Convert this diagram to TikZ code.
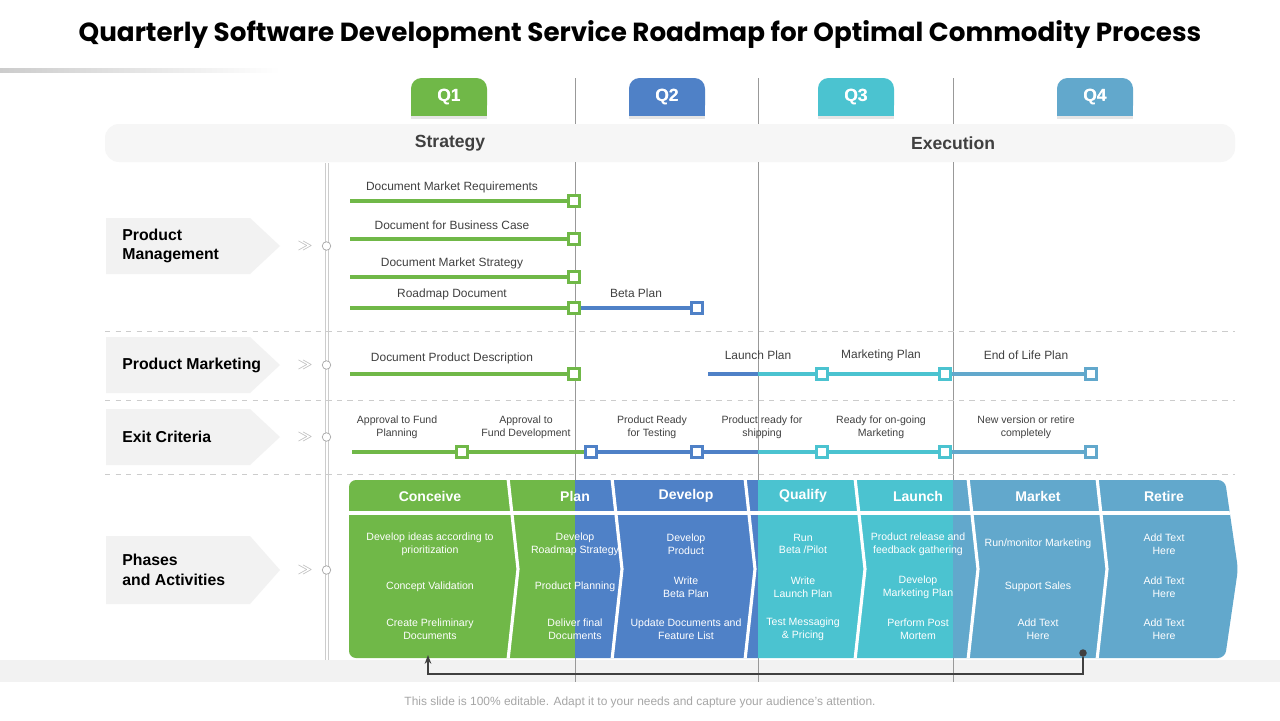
\documentclass[tikz,border=0pt]{standalone}
\usepackage{fontspec}
\setmainfont{Liberation Sans}
\newfontfamily\titlefont{Poppins}
\usetikzlibrary{positioning, calc, arrows.meta}
\definecolor{qgreen}{RGB}{112,184,72}
\definecolor{qblue}{RGB}{79,129,199}
\definecolor{qcyan}{RGB}{75,195,208}
\definecolor{qsteel}{RGB}{98,168,204}
\definecolor{rowgray}{RGB}{242,242,242}
\definecolor{textgray}{RGB}{64,64,64}
\tikzset{
  qtab/.style={rounded corners=6pt, minimum width=1.52cm, minimum height=0.76cm, text=white, font=\bfseries\fontsize{10}{12}\selectfont},
  rowlabel/.style={font=\bfseries\fontsize{9}{11}\selectfont, text=black, align=left, anchor=west, inner sep=0pt},
  barlabel/.style={font=\fontsize{6.4}{7.6}\selectfont, text=textgray, align=center},
  phasehead/.style={font=\bfseries\fontsize{8}{10}\selectfont, text=white},
  phasetext/.style={font=\fontsize{6}{7.2}\selectfont, text=white, align=center},
  mile/.style={draw=#1, line width=1.6pt, fill=white, minimum size=0.22cm, inner sep=0pt},
  bar/.style={line width=2.6pt, draw=#1},
  chev/.style={font=\fontsize{8}{8}\selectfont, text=gray!60},
  dot/.style={circle, draw=gray!70, fill=white, minimum size=0.17cm, inner sep=0pt},
  sep/.style={white, line width=1.8pt}
}
\begin{document}
\begin{tikzpicture}[x=0.02cm, y=-0.02cm]
\useasboundingbox (0,0) rectangle (1280,720);
\fill[white] (0,0) rectangle (1280,720);

% Title
\node[font=\titlefont\bfseries\fontsize{14.9}{18}\selectfont] (title) at (640,34) {Quarterly Software Development Service Roadmap for Optimal Commodity Process};
\shade[left color=gray!40, right color=white] (0,68) rectangle (280,72);

% Bottom band
\fill[rowgray] (0,660) rectangle (1280,682);

% Quarter tabs
\foreach \x/\c/\q in {449/qgreen/Q1, 667/qblue/Q2, 856/qcyan/Q3, 1095/qsteel/Q4} {
  \fill[gray!20] (\x-38,100) rectangle (\x+38,119);
  \node[qtab, fill=\c] (tab\q) at (\x,97) {\q};
  \fill[\c] (\x-38,100) rectangle (\x+38,116);
  \node[qtab] at (\x,97) {\q};
}

% Strategy / Execution band
\fill[rowgray!70, rounded corners=8pt] (105,124) rectangle (1235,162);
\node[font=\bfseries\fontsize{10}{12}\selectfont, text=textgray] (strategy) at (450,143) {Strategy};
\node[font=\bfseries\fontsize{10}{12}\selectfont, text=textgray] (execution) at (953,143) {Execution};

% Quarter dividers
\foreach \x in {575,758,953} {
  \draw[gray!80, thin] (\x,78) -- (\x,124);
  \draw[gray!80, thin] (\x,162) -- (\x,682);
}
\draw[gray!40] (325,163) -- (325,660);
\draw[gray!40] (328,163) -- (328,660);

% Row separators
\foreach \y in {331,400,474} {
  \draw[gray!40, dashed] (105,\y) -- (1235,\y);
}

% Row labels
\foreach \y/\h/\t [count=\i] in {246/28/{Product\\Management}, 365/28/{Product Marketing}, 437/28/{Exit Criteria}, 570/34/{Phases\\and Activities}} {
  \fill[rowgray] (106,\y-\h) -- (250,\y-\h) -- (280,\y) -- (250,\y+\h) -- (106,\y+\h) -- cycle;
  \node[rowlabel] (row\i) at (122,\y) {\t};
  \node[chev] (chev\i) at (305,\y) {$\gg$};
  \node[dot] (dot\i) at (326.5,\y) {};
}

% Product management
\foreach \y/\t [count=\i] in {201/Document Market Requirements, 239/Document for Business Case, 277/Document Market Strategy, 308/Roadmap Document} {
  \coordinate (pmS\i) at (350,\y);
  \node[mile=qgreen] (pmM\i) at (574,\y) {};
  \draw[bar=qgreen] (pmS\i) -- (pmM\i);
  \node[barlabel, font=\fontsize{6.8}{8}\selectfont] at (452,\y-14) {\t};
}
\node[mile=qblue] (pmB) at (697,308) {};
\draw[bar=qblue] (pmM4) -- (pmB);
\node[mile=qgreen] at (574,308) {};
\node[barlabel, font=\fontsize{6.8}{8}\selectfont] at (636,293) {Beta Plan};

% Product marketing
\coordinate (mkS) at (350,374);
\node[mile=qgreen] (mk1) at (574,374) {};
\draw[bar=qgreen] (mkS) -- (mk1);
\node[barlabel, font=\fontsize{6.8}{8}\selectfont] at (452,358) {Document Product Description};
\coordinate (mkL) at (708,374);
\coordinate (mkQ) at (758,374);
\node[mile=qcyan] (mk2) at (822,374) {};
\node[mile=qcyan] (mk3) at (945,374) {};
\node[mile=qsteel] (mk4) at (1091,374) {};
\draw[bar=qblue] (mkL) -- (mkQ);
\draw[bar=qcyan] (mkQ) -- (mk2);
\draw[bar=qcyan] (mk2) -- (mk3);
\draw[bar=qsteel] (mk3) -- (mk4);
\node[mile=qcyan] at (945,374) {};
\node[barlabel, font=\fontsize{6.8}{8}\selectfont] at (758,355) {Launch Plan};
\node[barlabel, font=\fontsize{6.8}{8}\selectfont] at (881,355) {Marketing Plan};
\node[barlabel, font=\fontsize{6.8}{8}\selectfont] at (1026,355) {End of Life Plan};

% Exit criteria
\coordinate (exS) at (352,452);
\node[mile=qgreen] (ex1) at (462,452) {};
\node[mile=qblue] (ex2) at (591,452) {};
\node[mile=qblue] (ex3) at (697,452) {};
\coordinate (exQ) at (758,452);
\node[mile=qcyan] (ex4) at (822,452) {};
\node[mile=qcyan] (ex5) at (945,452) {};
\node[mile=qsteel] (ex6) at (1091,452) {};
\draw[bar=qgreen] (exS) -- (ex1);
\draw[bar=qgreen] (ex1) -- (ex2);
\draw[bar=qblue] (ex2) -- (ex3);
\draw[bar=qblue] (ex3) -- (exQ);
\draw[bar=qcyan] (exQ) -- (ex4);
\draw[bar=qcyan] (ex4) -- (ex5);
\draw[bar=qsteel] (ex5) -- (ex6);
\node[mile=qgreen] at (462,452) {};
\node[mile=qblue] at (591,452) {};
\node[mile=qcyan] at (945,452) {};
\foreach \x/\t in {397/{Approval to Fund\\Planning}, 526/{Approval to\\Fund Development}, 652/{Product Ready\\for Testing}, 762/{Product ready for\\shipping}, 881/{Ready  for on-going\\Marketing}, 1026/{New version or retire\\completely}} {
  \node[barlabel, font=\fontsize{6}{7.4}\selectfont] at (\x,427) {\t};
}

% Phases band
\begin{scope}
  \clip[rounded corners=4pt] (349,480) -- (1225,480) -- (1238,569) -- (1225,658) -- (349,658) -- cycle;
  \fill[qgreen] (340,470) rectangle (575,670);
  \fill[qblue] (575,470) rectangle (758,670);
  \fill[qcyan] (758,470) rectangle (953,670);
  \fill[qsteel] (953,470) rectangle (1240,670);
  \foreach \x in {508,612,745,855,968,1097} {
    \draw[sep] (\x,478) -- (\x+10,569) -- (\x,660);
  }
  \draw[sep] (340,513) -- (1240,513);
\end{scope}
\foreach \x/\h/\a/\b/\c in {
  430/Conceive/{Develop ideas according to\\prioritization}/{Concept Validation}/{Create Preliminary\\Documents},
  575/Plan/{Develop\\Roadmap Strategy}/{Product Planning}/{Deliver final\\Documents},
  686/Develop/{Develop\\Product}/{Write\\Beta Plan}/{Update Documents and\\Feature List},
  803/Qualify/{Run\\Beta /Pilot}/{Write\\Launch Plan}/{Test Messaging\\\& Pricing},
  918/Launch/{Product release and\\feedback gathering}/{Develop\\Marketing Plan}/{Perform Post\\Mortem},
  1038/Market/{Run/monitor Marketing}/{Support Sales}/{Add Text\\Here},
  1164/Retire/{Add Text\\Here}/{Add Text\\Here}/{Add Text\\Here}} {
  \node[phasehead] (ph\h) at (\x,496) {\h};
  \node[phasetext] at (\x,544) {\a};
  \node[phasetext] at (\x,587) {\b};
  \node[phasetext] at (\x,629) {\c};
}

% Feedback arrow
\node[circle, fill=textgray, inner sep=0pt, minimum size=0.15cm] (loopEnd) at (1083,653) {};
\coordinate (loopStart) at (428,655);
\draw[textgray, line width=1pt, -{Stealth[length=5pt]}] (loopEnd) |- (760,674) -| (loopStart);

% Footer
\node[font=\fontsize{6.8}{8}\selectfont, text=gray!70] (footer) at (640,702) {This slide is 100\% editable. Adapt it to your needs and capture your audience's attention.};
\end{tikzpicture}
\end{document}
